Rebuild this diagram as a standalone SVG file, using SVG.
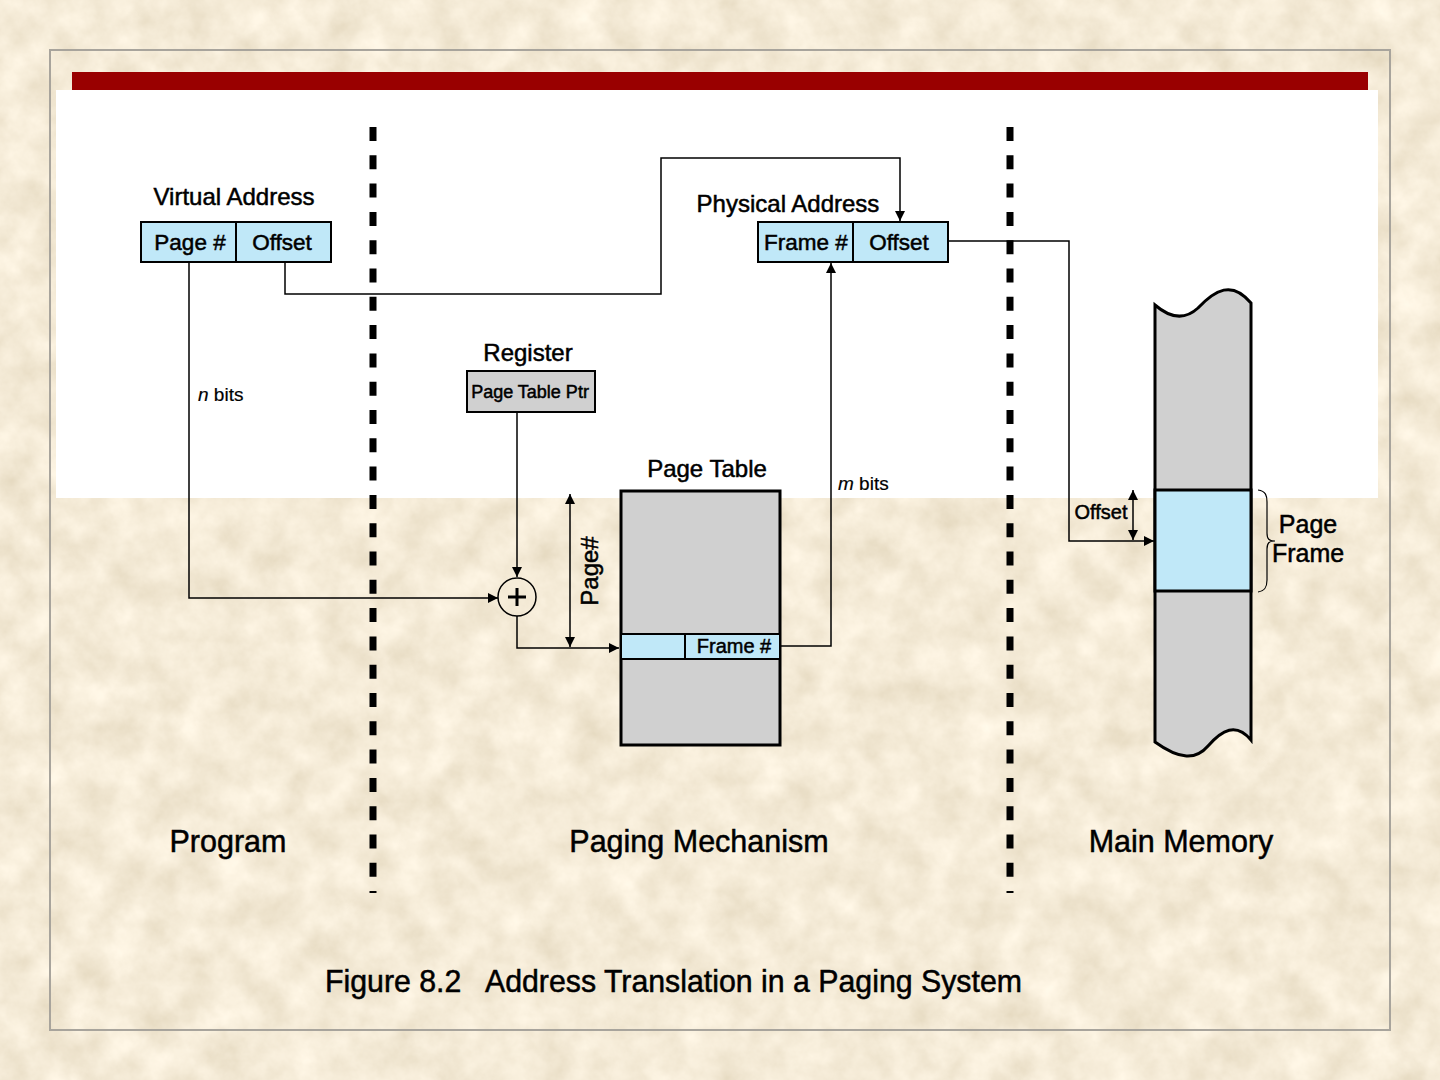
<svg xmlns="http://www.w3.org/2000/svg" width="1440" height="1080" viewBox="0 0 1440 1080">
<defs>
<filter id="parch" x="0" y="0" width="100%" height="100%">
<feTurbulence type="fractalNoise" baseFrequency="0.028" numOctaves="5" seed="7"/>
<feColorMatrix type="matrix" values="0.28 0 0 0 0.77  0.3 0 0 0 0.68  0.34 0 0 0 0.51  0 0 0 0 1"/>
</filter>
<marker id="ah" viewBox="0 0 10 10" refX="10" refY="5" markerWidth="10" markerHeight="10" markerUnits="userSpaceOnUse" orient="auto">
<path d="M0,0 L10,5 L0,10 z" fill="#000"/>
</marker>
<marker id="ahs" viewBox="0 0 10 10" refX="10" refY="5" markerWidth="10" markerHeight="10" markerUnits="userSpaceOnUse" orient="auto-start-reverse">
<path d="M0,0 L10,5 L0,10 z" fill="#000"/>
</marker>
<style>
text{font-family:"Liberation Sans",Arial,sans-serif;fill:#000;stroke:#000;stroke-width:0.5}
.lbl{font-size:24px}
.cell{font-size:22.5px}
.big{font-size:30.5px}
.sm{font-size:18px}
.blue{fill:#C0E8F8;stroke:#000;stroke-width:2}
.grey{fill:#D0D0D0;stroke:#000;stroke-width:2}
.thick{stroke-width:3}
.conn path,.conn line{fill:none;stroke:#000;stroke-width:1.5}
.dash{stroke:#000;stroke-width:7;stroke-dasharray:14 14.3;fill:none}
</style>
</defs>
<rect width="1440" height="1080" fill="#E8D4AA"/>
<rect width="1440" height="1080" filter="url(#parch)"/>
<rect x="50" y="50" width="1340" height="980" fill="none" stroke="#A8A49C" stroke-width="2"/>
<rect x="56" y="90" width="1322" height="408" fill="#FFFFFF"/>
<rect x="72" y="72" width="1296" height="18" fill="#990000"/>

<g id="dividers">
<line class="dash" x1="373" y1="127" x2="373" y2="893"/>
<line class="dash" x1="1010" y1="127" x2="1010" y2="893"/>
</g>

<g id="virtual-address">
<text class="lbl" x="234" y="205" text-anchor="middle">Virtual Address</text>
<rect class="blue" x="141" y="222" width="95" height="40"/>
<rect class="blue" x="236" y="222" width="95" height="40"/>
<text class="cell" x="190" y="250" text-anchor="middle">Page #</text>
<text class="cell" x="282" y="250" text-anchor="middle">Offset</text>
</g>

<g id="physical-address">
<text class="lbl" x="788" y="212" text-anchor="middle">Physical Address</text>
<rect class="blue" x="758" y="222" width="95" height="40"/>
<rect class="blue" x="853" y="222" width="95" height="40"/>
<text class="cell" x="806" y="250" text-anchor="middle">Frame #</text>
<text class="cell" x="899" y="250" text-anchor="middle">Offset</text>
</g>

<g id="register">
<text class="lbl" x="528" y="361" text-anchor="middle">Register</text>
<rect class="grey" x="467" y="371" width="128" height="41"/>
<text class="sm" x="530" y="398" text-anchor="middle">Page Table Ptr</text>
</g>

<g id="adder">
<circle cx="517" cy="597" r="19" fill="none" stroke="#000" stroke-width="1.5"/>
<path d="M508,597 H526 M517,588 V606" stroke="#000" stroke-width="3" fill="none"/>
</g>

<g id="page-table">
<text class="lbl" x="707" y="477" text-anchor="middle">Page Table</text>
<rect class="grey thick" x="621" y="491" width="159" height="254"/>
<rect class="blue" x="621" y="634" width="64" height="25"/>
<rect class="blue" x="685" y="634" width="95" height="25"/>
<text class="sm" x="734" y="653" text-anchor="middle" style="font-size:20px">Frame #</text>
</g>

<g id="main-memory">
<path d="M1155,305 C1170,318 1185,320 1198,308 C1215,290 1232,280 1251,303 V740 C1236,722 1222,730 1208,746 C1196,760 1180,760 1155,742 Z" fill="#D0D0D0" stroke="#000" stroke-width="3"/>
<rect x="1155" y="490" width="96" height="101" fill="#C0E8F8" stroke="#000" stroke-width="3"/>
<path d="M1258,490 C1266,491 1267,496 1267,502 V533 C1267,539 1269,541 1275,541 C1269,541 1267,543 1267,549 V580 C1267,587 1265,591 1258,592" fill="none" stroke="#000" stroke-width="1.2"/>
<text class="lbl" x="1308" y="533" text-anchor="middle" style="font-size:25px">Page</text>
<text class="lbl" x="1308" y="562" text-anchor="middle" style="font-size:25px">Frame</text>
<text class="sm" x="1101" y="519" text-anchor="middle" style="font-size:20px">Offset</text>
</g>

<g class="conn" id="connectors">
<path d="M189,262 V598 H498" marker-end="url(#ah)"/>
<path d="M285,262 V294 H661 V158 H900 V221" marker-end="url(#ah)"/>
<path d="M517,412 V577" marker-end="url(#ah)"/>
<path d="M517,616 V648 H619" marker-end="url(#ah)"/>
<line x1="570" y1="494" x2="570" y2="647" marker-start="url(#ahs)" marker-end="url(#ah)"/>
<path d="M780,646 H831 V263" marker-end="url(#ah)"/>
<path d="M948,241 H1069 V541 H1154" marker-end="url(#ah)"/>
<line x1="1133" y1="490" x2="1133" y2="540" marker-start="url(#ahs)" marker-end="url(#ah)"/>
</g>

<g id="labels">
<text x="198" y="401" style="font-size:19px;stroke-width:0.2"><tspan font-style="italic">n</tspan> bits</text>
<text x="838" y="490" style="font-size:19px;stroke-width:0.2"><tspan font-style="italic">m</tspan> bits</text>
<text class="lbl" transform="translate(598,571) rotate(-90)" text-anchor="middle">Page#</text>
<text class="big" x="228" y="852" text-anchor="middle">Program</text>
<text class="big" x="699" y="852" text-anchor="middle">Paging Mechanism</text>
<text class="big" x="1181" y="852" text-anchor="middle">Main Memory</text>
<text class="big" x="325" y="992" textLength="697" lengthAdjust="spacingAndGlyphs" xml:space="preserve">Figure 8.2   Address Translation in a Paging System</text>
</g>
</svg>
